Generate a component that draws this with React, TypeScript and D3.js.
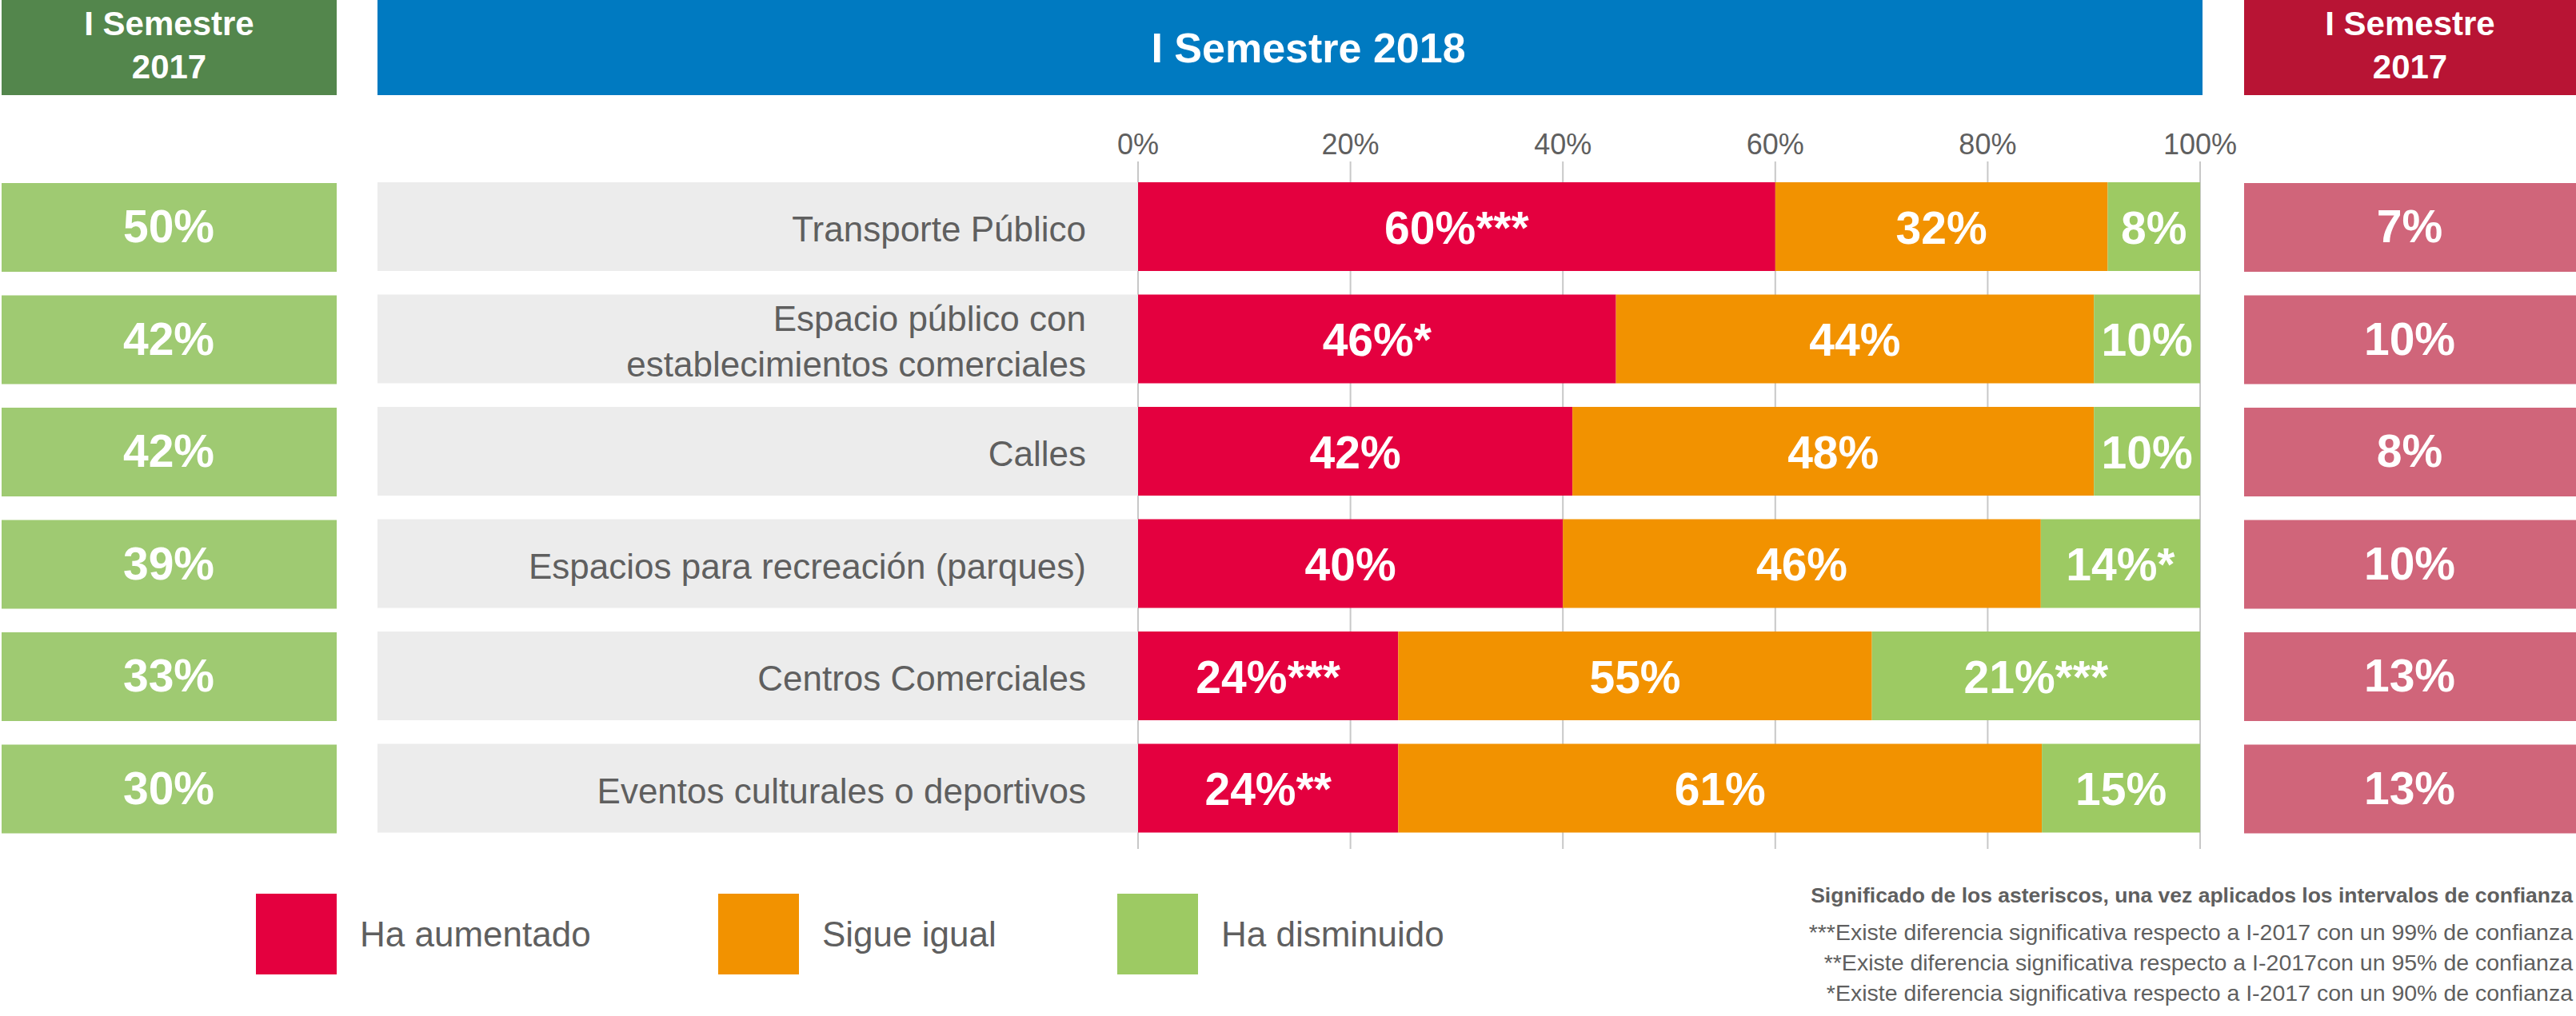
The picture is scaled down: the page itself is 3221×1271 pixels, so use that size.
import * as d3 from 'd3';

const W = 3221;
const H = 1271;

const categories = [
  'Transporte Público',
  'Espacio público con\nestablecimientos comerciales',
  'Calles',
  'Espacios para recreación (parques)',
  'Centros Comerciales',
  'Eventos culturales o deportivos',
];

// bar lengths as drawn (they do not always match the printed labels)
const aumentado = [60, 45, 40.9, 40, 24.5, 24.5];
const sigueIgual = [31.3, 45, 49.1, 45, 44.6, 60.6];
const disminuido = [8.7, 10, 10, 15, 30.9, 14.9];

const aumentadoLabels = ['60%***', '46%*', '42%', '40%', '24%***', '24%**'];
const igualLabels = ['32%', '44%', '48%', '46%', '55%', '61%'];
const disminuidoLabels = ['8%', '10%', '10%', '14%*', '21%***', '15%'];

// I Semestre 2017 columns
const prevDisminuido = [50, 42, 42, 39, 33, 30];
const prevAumentado = [7, 10, 8, 10, 13, 13];

const tickValues = [0, 20, 40, 60, 80, 100];

const seriesKeys = ['aumentado', 'igual', 'disminuido'];
const seriesNames = ['Ha aumentado', 'Sigue igual', 'Ha disminuido'];
const seriesColors = ['#e4003f', '#f29200', '#9dca63'];
const seriesLabels = [aumentadoLabels, igualLabels, disminuidoLabels];

const notes = [
  '***Existe diferencia significativa respecto a I-2017 con un 99% de confianza',
  '**Existe diferencia significativa respecto a I-2017con un 95% de confianza',
  '*Existe diferencia significativa respecto a I-2017 con un 90% de confianza',
];

const FONT = 'Liberation Sans, Arial, sans-serif';
const GRAY_TEXT = '#5f5f5f';

export default function App() {
  const table = categories.map((c, i) => ({
    category: c,
    aumentado: aumentado[i],
    igual: sigueIgual[i],
    disminuido: disminuido[i],
  }));
  const stacked = d3.stack<any>().keys(seriesKeys)(table);

  const x = d3.scaleLinear().domain([0, 100]).range([1423, 2751]);
  const y = d3.scaleBand().domain(categories).range([228, 1041.5]).paddingInner(0.21);
  const bw = y.bandwidth();

  const legendX = d3.scaleOrdinal<string, number>().domain(seriesNames).range([320, 898, 1397]);

  const headerY = 0;
  const headerH = 119;

  const sideHeader = (x0: number, x1: number, fill: string) => (
    <g>
      <rect x={x0} y={headerY} width={x1 - x0} height={headerH} fill={fill} />
      <text x={(x0 + x1) / 2} y={44} textAnchor="middle" fill="#fff" fontSize={42} fontWeight="bold">
        I Semestre
      </text>
      <text x={(x0 + x1) / 2} y={98} textAnchor="middle" fill="#fff" fontSize={42} fontWeight="bold">
        2017
      </text>
    </g>
  );

  return (
    <svg
      width={W}
      height={H}
      style={{ position: 'absolute', left: 0, top: 0, background: '#fff' }}
      fontFamily={FONT}
    >
      {/* headers */}
      {sideHeader(2, 421, '#53864c')}
      <rect x={472} y={headerY} width={2754 - 472} height={headerH} fill="#007ac1" />
      <text x={1636} y={60} dy="0.35em" textAnchor="middle" fill="#fff" fontSize={52} fontWeight="bold">
        I Semestre 2018
      </text>
      {sideHeader(2806, 3221, '#b81434')}

      {/* axis labels + gridlines */}
      {tickValues.map((t) => (
        <g key={t}>
          <line x1={x(t)} x2={x(t)} y1={202} y2={1062} stroke="#c8c8c8" strokeWidth={2} />
          <text x={x(t)} y={180} dy="0.35em" textAnchor="middle" fill={GRAY_TEXT} fontSize={36}>
            {t}%
          </text>
        </g>
      ))}

      {/* rows */}
      {categories.map((c, i) => {
        const y0 = y(c) as number;
        const lines = c.split('\n');
        const cy = y0 + bw / 2;
        return (
          <g key={c}>
            <rect x={2} y={y0 + 1} width={419} height={bw} fill="#9fca72" />
            <text x={211} y={cy} dy="0.35em" textAnchor="middle" fill="#fff" fontSize={57} fontWeight="bold">
              {prevDisminuido[i]}%
            </text>
            <rect x={472} y={y0} width={x(0) - 472} height={bw} fill="#ececec" />
            {lines.map((l, j) => (
              <text
                key={j}
                x={1358}
                y={cy + 3.5 + (j - (lines.length - 1) / 2) * 57}
                dy="0.35em"
                textAnchor="end"
                fill={GRAY_TEXT}
                fontSize={44}
              >
                {l}
              </text>
            ))}
            <rect x={2806} y={y0 + 1} width={3221 - 2806} height={bw} fill="#d0657a" />
            <text x={3013} y={cy} dy="0.35em" textAnchor="middle" fill="#fff" fontSize={57} fontWeight="bold">
              {prevAumentado[i]}%
            </text>
          </g>
        );
      })}

      {/* stacked bars */}
      {stacked.map((s, k) => (
        <g key={s.key}>
          {s.map((d, i) => {
            const y0 = y(categories[i]) as number;
            return (
              <g key={i}>
                <rect x={x(d[0])} y={y0} width={x(d[1]) - x(d[0])} height={bw} fill={seriesColors[k]} />
                <text
                  x={(x(d[0]) + x(d[1])) / 2}
                  y={y0 + bw / 2}
                  dy="0.37em"
                  textAnchor="middle"
                  fill="#fff"
                  fontSize={57}
                  fontWeight="bold"
                >
                  {seriesLabels[k][i]}
                </text>
              </g>
            );
          })}
        </g>
      ))}

      {/* legend */}
      {seriesNames.map((n, k) => (
        <g key={n}>
          <rect x={legendX(n)} y={1118} width={101} height={101} fill={seriesColors[k]} />
          <text x={legendX(n) + 130} y={1169} dy="0.35em" fill={GRAY_TEXT} fontSize={44}>
            {n}
          </text>
        </g>
      ))}

      {/* footnote */}
      <text x={3217} y={1129} textAnchor="end" fill={GRAY_TEXT} fontSize={26.5} fontWeight="bold">
        Significado de los asteriscos, una vez aplicados los intervalos de confianza
      </text>
      {notes.map((n, i) => (
        <text key={i} x={3217} y={1176 + i * 38} textAnchor="end" fill={GRAY_TEXT} fontSize={28.5}>
          {n}
        </text>
      ))}
    </svg>
  );
}
